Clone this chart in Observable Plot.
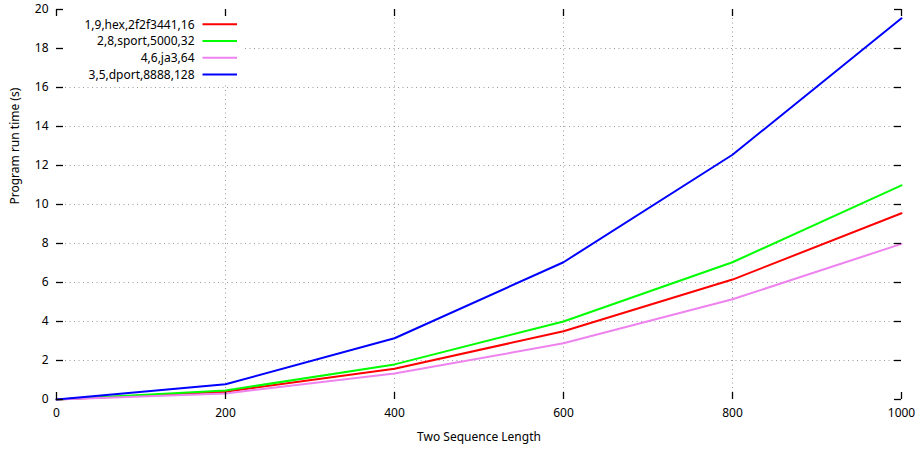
<!DOCTYPE html>
<html><head><meta charset="utf-8">
<script src="https://cdn.jsdelivr.net/npm/d3@7"></script>
<script src="https://cdn.jsdelivr.net/npm/@observablehq/plot@0.6"></script>
<style>
body{margin:0;background:#fff;}
svg{font-family:"Noto Sans",sans-serif;}
</style></head><body><div id="chart"></div>
<script>
const lengths = [0, 200, 400, 600, 800, 1000];
const seriesNames = ["1,9,hex,2f2f3441,16", "2,8,sport,5000,32", "4,6,ja3,64", "3,5,dport,8888,128"];
const seriesColors = ["#ff0000", "#00ff00", "#ee82ee", "#0000ff"];
const hexTimes = [0, 0.40, 1.58, 3.50, 6.15, 9.55];
const sportTimes = [0, 0.46, 1.80, 4.00, 7.04, 10.98];
const ja3Times = [0, 0.31, 1.33, 2.88, 5.14, 7.98];
const dportTimes = [0, 0.78, 3.14, 7.04, 12.55, 19.55];
const xTicks = [0, 200, 400, 600, 800, 1000];
const yTicks = [0, 2, 4, 6, 8, 10, 12, 14, 16, 18, 20];

const allSeries = [hexTimes, sportTimes, ja3Times, dportTimes];
const rows = [];
allSeries.forEach((vals, i) => vals.forEach((v, j) => rows.push({series: seriesNames[i], x: lengths[j], y: v})));

const tickStyle = {stroke: "black", strokeWidth: 1.3, strokeOpacity: 1};
const plot = Plot.plot({
  width: 917, height: 453,
  marginLeft: 56, marginRight: 16, marginTop: 9, marginBottom: 54,
  style: {fontFamily: "Noto Sans", fontSize: "12px", color: "#000", background: "#fff"},
  x: {domain: [0, 1000]},
  y: {domain: [0, 20]},
  color: {domain: seriesNames, range: seriesColors},
  marks: [
    Plot.gridX(xTicks.slice(1, -1), {stroke: "#9a9a9a", strokeOpacity: 1, strokeDasharray: "1,3.5"}),
    Plot.gridY(yTicks.slice(1, -1), {stroke: "#9a9a9a", strokeOpacity: 1, strokeDasharray: "1,3.5"}),
    Plot.line(rows, {x: "x", y: "y", z: "series", stroke: "series", strokeWidth: 2}),
    Plot.axisX(xTicks, {tickSize: 0, tickPadding: 9, label: null, fontSize: 12, tickFormat: d => String(d)}),
    Plot.axisY(yTicks, {tickSize: 0, tickPadding: 8, label: null, fontSize: 12, tickFormat: d => String(d)}),
    Plot.text(["Two Sequence Length"], {frameAnchor: "bottom", dy: 41, text: d => d, fontSize: 12}),
    Plot.text(["Program run time (s)"], {frameAnchor: "left", dx: -41, rotate: -90, text: d => d, fontSize: 12})
  ]
});
document.getElementById("chart").append(plot);

// legend (gnuplot-style key, opaque background)
const svg = d3.select(plot);
const lg = svg.append("g");
lg.append("rect").attr("x", 57).attr("y", 10).attr("width", 186).attr("height", 72).attr("fill", "#fff");
seriesNames.forEach((name, i) => {
  const cy = 24.3 + i * 16.7;
  lg.append("text").attr("x", 194.5).attr("y", cy).attr("dy", "0.35em").attr("text-anchor", "end")
    .attr("font-size", 12).attr("fill", "#000").text(name);
  lg.append("line").attr("x1", 202.5).attr("x2", 237).attr("y1", cy).attr("y2", cy)
    .attr("stroke", seriesColors[i]).attr("stroke-width", 2);
});

// inward mirrored ticks + frame drawn on top with the same scales
const tickPlot = Plot.plot({
  width: 917, height: 453,
  marginLeft: 56, marginRight: 16, marginTop: 9, marginBottom: 54,
  x: {domain: [0, 1000], axis: null},
  y: {domain: [0, 20], axis: null},
  marks: [
    Plot.tickX(xTicks, {x: d => d, insetTop: 383, ...tickStyle}),
    Plot.tickX(xTicks, {x: d => d, insetBottom: 383, ...tickStyle}),
    Plot.tickY(yTicks, {y: d => d, insetRight: 838, ...tickStyle}),
    Plot.tickY(yTicks, {y: d => d, insetLeft: 838, ...tickStyle}),
    Plot.frame({stroke: "#000", strokeWidth: 1.5})
  ]
});
Array.from(tickPlot.querySelectorAll(":scope > g")).forEach(g => plot.appendChild(g));
</script></body></html>
